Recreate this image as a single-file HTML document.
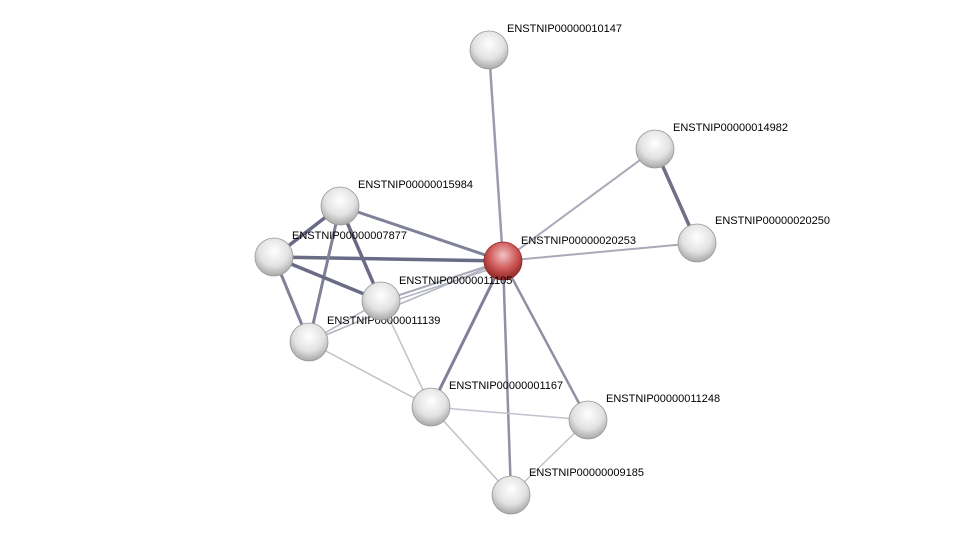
<!DOCTYPE html>
<html><head><meta charset="utf-8"><style>
html,body{margin:0;padding:0;background:#fff;}
svg{display:block;}
text{font-family:"Liberation Sans",sans-serif;font-size:11px;fill:#000;}
</style></head><body>
<svg width="975" height="540" viewBox="0 0 975 540">
<defs>
<radialGradient id="g" cx="0.5" cy="0.35" r="0.65">
<stop offset="0" stop-color="#ffffff"/><stop offset="0.6" stop-color="#e2e2e2"/><stop offset="1" stop-color="#a8a8a8"/>
</radialGradient>
<radialGradient id="r" cx="0.5" cy="0.35" r="0.65">
<stop offset="0" stop-color="#f2c4c4"/><stop offset="0.55" stop-color="#cf5a5a"/><stop offset="1" stop-color="#8e2424"/>
</radialGradient>
</defs>
<g stroke-linecap="round">
<line x1="503" y1="261" x2="489" y2="50" stroke="#9a9db0" stroke-width="2.5"/>
<line x1="503" y1="261" x2="655" y2="149" stroke="#a8aab8" stroke-width="2"/>
<line x1="503" y1="261" x2="697" y2="243" stroke="#a8aab8" stroke-width="2"/>
<line x1="655" y1="149" x2="697" y2="243" stroke="#6e7088" stroke-width="3.5"/>
<line x1="503" y1="261" x2="340" y2="206" stroke="#7e8198" stroke-width="3"/>
<line x1="503" y1="261" x2="274" y2="257" stroke="#6a6c86" stroke-width="3.5"/>
<line x1="503" y1="261" x2="381" y2="301" stroke="#a8aab8" stroke-width="2"/>
<line x1="503" y1="265" x2="381" y2="305" stroke="#b0b2c0" stroke-width="1.5"/>
<line x1="503" y1="261" x2="309" y2="342" stroke="#b0b2c0" stroke-width="1.5"/>
<line x1="503" y1="261" x2="431" y2="407" stroke="#7e8198" stroke-width="3"/>
<line x1="503" y1="261" x2="588" y2="420" stroke="#8e90a4" stroke-width="2.5"/>
<line x1="503" y1="261" x2="511" y2="495" stroke="#8e90a4" stroke-width="2.5"/>
<line x1="340" y1="206" x2="274" y2="257" stroke="#6a6c86" stroke-width="3.5"/>
<line x1="340" y1="206" x2="381" y2="301" stroke="#6a6c86" stroke-width="3.5"/>
<line x1="340" y1="206" x2="309" y2="342" stroke="#7e8198" stroke-width="3"/>
<line x1="274" y1="257" x2="381" y2="301" stroke="#6a6c86" stroke-width="3.5"/>
<line x1="274" y1="257" x2="309" y2="342" stroke="#7e8198" stroke-width="3"/>
<line x1="309" y1="342" x2="381" y2="301" stroke="#b0b2c0" stroke-width="1.5"/>
<line x1="309" y1="342" x2="431" y2="407" stroke="#c0c2cc" stroke-width="1.5"/>
<line x1="381" y1="301" x2="431" y2="407" stroke="#c0c2cc" stroke-width="1.5"/>
<line x1="431" y1="407" x2="588" y2="420" stroke="#c0c2cc" stroke-width="1.5"/>
<line x1="431" y1="407" x2="511" y2="495" stroke="#c0c2cc" stroke-width="1.5"/>
<line x1="588" y1="420" x2="511" y2="495" stroke="#c0c2cc" stroke-width="1.5"/>
</g>
<g stroke="#999" stroke-width="0.8">
<circle cx="489" cy="50" r="19" fill="url(#g)"/>
<circle cx="655" cy="149" r="19" fill="url(#g)"/>
<circle cx="697" cy="243" r="19" fill="url(#g)"/>
<circle cx="340" cy="206" r="19" fill="url(#g)"/>
<circle cx="274" cy="257" r="19" fill="url(#g)"/>
<circle cx="309" cy="342" r="19" fill="url(#g)"/>
</g>
<text x="327" y="324">ENSTNIP00000011139</text>
<g stroke="#999" stroke-width="0.8">
<circle cx="381" cy="301" r="19" fill="url(#g)"/>
<circle cx="431" cy="407" r="19" fill="url(#g)"/>
<circle cx="588" cy="420" r="19" fill="url(#g)"/>
<circle cx="511" cy="495" r="19" fill="url(#g)"/>
<circle cx="503" cy="261" r="19" fill="url(#r)" stroke="#8e2424"/>
</g>
<text x="507" y="32">ENSTNIP00000010147</text>
<text x="673" y="131">ENSTNIP00000014982</text>
<text x="715" y="224">ENSTNIP00000020250</text>
<text x="521" y="244">ENSTNIP00000020253</text>
<text x="358" y="188">ENSTNIP00000015984</text>
<text x="292" y="239">ENSTNIP00000007877</text>
<text x="399" y="284">ENSTNIP00000011105</text>
<text x="449" y="389">ENSTNIP00000001167</text>
<text x="606" y="402">ENSTNIP00000011248</text>
<text x="529" y="476">ENSTNIP00000009185</text>
</svg>
</body></html>
